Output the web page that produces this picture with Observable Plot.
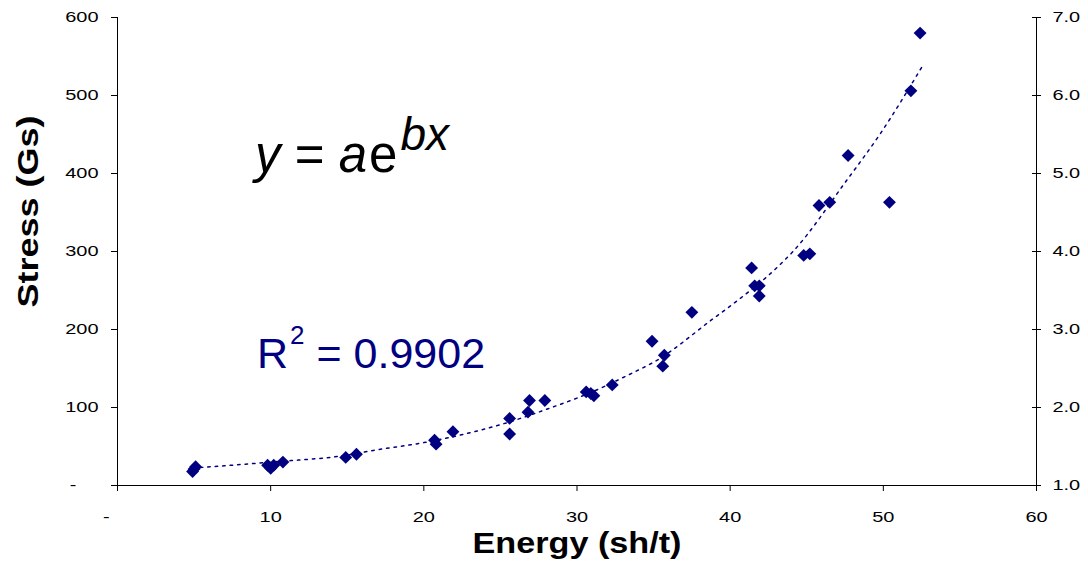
<!DOCTYPE html>
<html><head><meta charset="utf-8">
<script src="https://cdn.jsdelivr.net/npm/d3@7"></script>
<script src="https://cdn.jsdelivr.net/npm/@observablehq/plot@0.6"></script>
<style>body{margin:0;background:#fff;} #chart svg{display:block;}</style>
</head><body><div id="chart"></div>
<script>
// Observed points
const energy = [4.9,5.1,5.0,9.8,10.2,10.0,10.8,14.9,15.6,20.7,20.8,21.9,25.6,25.6,26.8,26.9,27.9,30.6,31.1,30.9,32.3,34.9,35.7,35.6,37.5,41.4,41.6,41.9,41.9,44.8,45.2,45.8,46.5,50.4,47.7,51.8,52.4];
const stress = [18,24,21,26,26,22,30,36,40,58,53,69,86,66,94,109,109,120,115,118,129,185,167,153,222,279,256,256,243,295,297,359,363,363,423,506,580];
// Exponential trendline
const trendEnergy = [5.4,10,15,16.7,20,23.5,25,28.9,30,33.9,35,38.9,40,43.3,44.1,47.6,49.8,52.5];
const trendStress = [23,30,39,45,55,70,78,104,112,147,158,214,230,284,300,391,451,536];
// Axes
const xTicks = [0,10,20,30,40,50,60];
const xTickLabels = ["-\u00a0\u00a0\u00a0\u00a0","10","20","30","40","50","60"];
const yTicks = [0,100,200,300,400,500,600];
const yTickLabels = ["-\u00a0\u00a0\u00a0\u00a0","100","200","300","400","500","600"];
const rightTickLabels = ["1.0","2.0","3.0","4.0","5.0","6.0","7.0"];
const xTitle = "Energy (sh/t)";
const yTitle = "Stress (Gs)";

const points = energy.map((e, i) => ({energy: e, stress: stress[i]}));
const trend = trendEnergy.map((e, i) => ({energy: e, stress: trendStress[i]}));
const navy = "#000080";
const font = "'Liberation Sans', Arial, sans-serif";

const plot = Plot.plot({
  width: 1088,
  height: 573,
  marginLeft: 117,
  marginRight: 52,
  marginTop: 17,
  marginBottom: 88,
  style: {fontFamily: font, fontSize: "15px", color: "#000", background: "#fff"},
  x: {domain: [0, 60]},
  y: {domain: [0, 600]},
  marks: [
    Plot.ruleY([0], {stroke: "#000"}),
    Plot.ruleX([0, 60], {stroke: "#000"}),
    Plot.axisX({ticks: xTicks, tickFormat: d => xTickLabels[xTicks.indexOf(d)], tickSize: 6, tickPadding: 20, label: null}),
    Plot.axisY({ticks: yTicks, tickFormat: d => yTickLabels[yTicks.indexOf(d)], tickSize: 6, tickPadding: 13, label: null}),
    Plot.axisY({anchor: "right", ticks: yTicks, tickFormat: d => rightTickLabels[yTicks.indexOf(d)], tickSize: 9, dx: -5, tickPadding: 12, label: null}),
    Plot.line(trend, {x: "energy", y: "stress", stroke: navy, strokeWidth: 1.5, strokeDasharray: "2.5,5", curve: "monotone-x"}),
    Plot.dot(points, {x: "energy", y: "stress", symbol: "diamond2", r: 5.8, fill: navy, stroke: "none"}),
    Plot.text([xTitle], {frameAnchor: "bottom", text: d => d, dy: 67, fontSize: 30, fontWeight: "bold", fill: "#000", className: "xt"}),
    Plot.text([yTitle], {frameAnchor: "left", textAnchor: "middle", text: d => d, rotate: -90, dx: -89, dy: -40, fontSize: 30, fontWeight: "bold", fill: "#000", className: "yt"})
  ]
});
document.getElementById("chart").appendChild(plot);

// widen tick labels and titles along their reading direction, as in the reference rendering
function stretch(sel, k) {
  plot.querySelectorAll(sel).forEach(t => {
    const w = t.getComputedTextLength();
    if (w > 0) { t.setAttribute("textLength", (w * k).toFixed(1)); t.setAttribute("lengthAdjust", "spacingAndGlyphs"); }
  });
}
stretch("g[aria-label='x-axis tick label'] text, g[aria-label='y-axis tick label'] text", 1.33);
stretch(".xt text", 1.14);
stretch(".yt text", 1.2);

const svg = d3.select(plot);
const eq = svg.append("text").attr("x", 255).attr("y", 172).attr("text-anchor", "start")
  .attr("font-family", font).attr("font-size", 51).attr("fill", "#000");
eq.append("tspan").attr("font-style", "italic").text("y");
eq.append("tspan").text("\u00a0=\u00a0");
eq.append("tspan").attr("font-style", "italic").text("a");
eq.append("tspan").attr("dx", 2).text("e");
eq.append("tspan").attr("font-style", "italic").attr("font-size", 46).attr("dx", 3).attr("dy", -22).text("bx");

const r2 = svg.append("text").attr("x", 257).attr("y", 368).attr("text-anchor", "start")
  .attr("font-family", font).attr("font-size", 43).attr("fill", navy);
r2.append("tspan").text("R");
r2.append("tspan").attr("font-size", 26).attr("dx", 2).attr("dy", -24).text("2");
r2.append("tspan").attr("dy", 24).text("\u00a0= 0.9902");
</script></body></html>
